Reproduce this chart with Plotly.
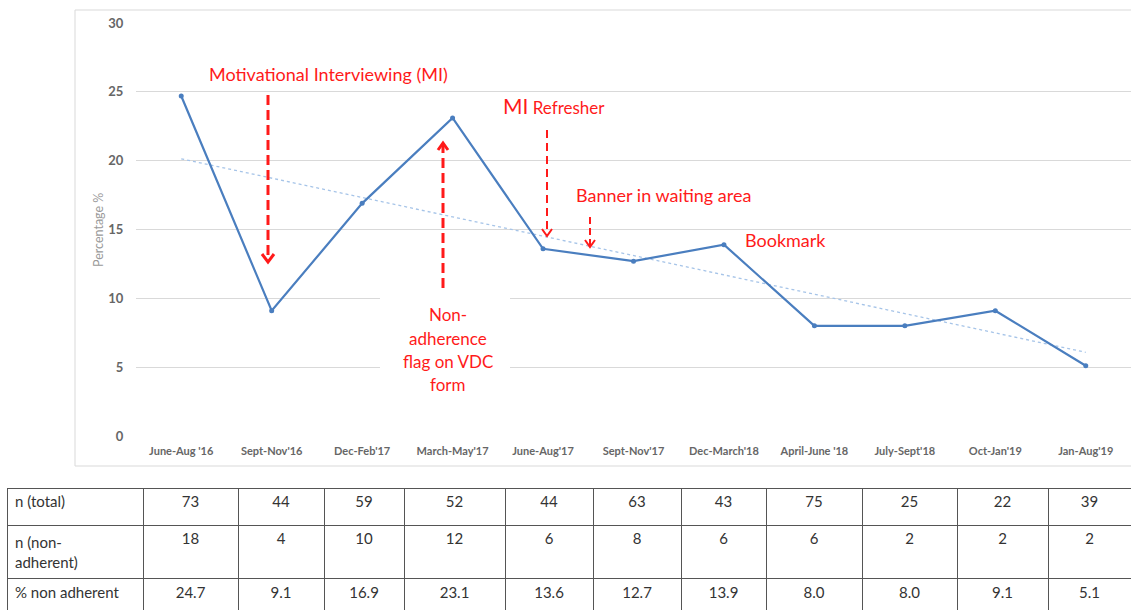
import numpy as np
import plotly.graph_objects as go

categories = ["June-Aug '16", "Sept-Nov'16", "Dec-Feb'17", "March-May'17", "June-Aug'17",
              "Sept-Nov'17", "Dec-March'18", "April-June '18", "July-Sept'18", "Oct-Jan'19", "Jan-Aug'19"]
pct_non_adherent = [24.7, 9.1, 16.9, 23.1, 13.6, 12.7, 13.9, 8.0, 8.0, 9.1, 5.1]
n_total = [73, 44, 59, 52, 44, 63, 43, 75, 25, 22, 39]
n_non_adherent = [18, 4, 10, 12, 6, 8, 6, 6, 2, 2, 2]
row_labels = ["n (total)", "n (non-<br>adherent)", "% non adherent"]
y_ticks = [0, 5, 10, 15, 20, 25, 30]

W, H = 1131, 611
FONT = "Lato"
RED = "#ff1a1a"

# linear trendline from the data
xi = np.arange(len(pct_non_adherent))
slope, intercept = np.polyfit(xi, pct_non_adherent, 1)
trend = intercept + slope * xi

fig = go.Figure()

fig.add_trace(go.Scatter(
    x=categories, y=trend, mode="lines",
    line=dict(color="#a6c4e8", width=1.3, dash="dot"),
    hoverinfo="skip", showlegend=False))

fig.add_trace(go.Scatter(
    x=categories, y=pct_non_adherent, mode="lines+markers",
    line=dict(color="#4a7ebf", width=2.2),
    marker=dict(size=5, color="#4a7ebf"),
    showlegend=False))

# Table (first row used as header so that all three rows look alike)
col_widths = [136, 95, 86, 80, 101, 88, 88, 85, 96, 95, 91, 83]
header_vals = [row_labels[0]] + [str(v) for v in n_total]
cell_vals = [[row_labels[1], row_labels[2]]] + [
    [str(a), f"{b:.1f}"] for a, b in zip(n_non_adherent, pct_non_adherent)]
aligns = ["left"] + ["center"] * len(categories)
fig.add_trace(go.Table(
    domain=dict(x=[7 / W, 1.0], y=[0, 1 - 488 / H]),
    columnwidth=col_widths,
    header=dict(values=header_vals, align=aligns, height=37,
                fill=dict(color="white"), line=dict(color="#555555", width=1),
                font=dict(family=FONT, size=15, color="#333333")),
    cells=dict(values=cell_vals, align=aligns, height=35,
               fill=dict(color="white"), line=dict(color="#555555", width=1),
               font=dict(family=FONT, size=15, color="#333333")),
))

# helper: px -> data
def dx(px):
    return (px - 136) / ((W - 136) / 11) - 0.5

def dy(py):
    return (436 - py) / ((436 - 23) / 30)

shapes = []
# chart frame
shapes.append(dict(type="rect", xref="paper", yref="paper",
                   x0=75 / W, x1=1.003, y0=1 - 466 / H, y1=1 - 10 / H,
                   line=dict(color="#d9d9d9", width=1), fillcolor="rgba(0,0,0,0)", layer="below"))
# white box behind the "Non-adherence" text
shapes.append(dict(type="rect", xref="x", yref="y",
                   x0=dx(380), x1=dx(510), y0=dy(398), y1=dy(296),
                   line=dict(width=0), fillcolor="white", layer="between"))

def dashed_arrow(xp, y_from, y_to, width, dash, head_w=6, head_h=8):
    x = dx(xp)
    shapes.append(dict(type="line", xref="x", yref="y",
                       x0=x, x1=x, y0=dy(y_from), y1=dy(y_to),
                       line=dict(color=RED, width=width, dash=dash)))
    base = y_to - head_h if y_to > y_from else y_to + head_h
    path = f"M {dx(xp - head_w)},{dy(base)} L {x},{dy(y_to)} L {dx(xp + head_w)},{dy(base)}"
    shapes.append(dict(type="path", xref="x", yref="y", path=path,
                       line=dict(color=RED, width=width)))

dashed_arrow(268, 95, 262, 3, "10px,5px", head_w=6, head_h=8)
dashed_arrow(443, 288, 143, 3, "10px,5px", head_w=5, head_h=7)
dashed_arrow(547, 130, 236, 2, "8px,5px", head_w=5, head_h=7)
dashed_arrow(590, 217, 247, 2, "7px,4px", head_w=5, head_h=7)

annotations = []
def txt(text, xp, yp, size=15):
    annotations.append(dict(text=text, x=dx(xp), y=dy(yp), xref="x", yref="y",
                            showarrow=False, font=dict(family=FONT, size=size, color=RED),
                            xanchor="center", yanchor="middle"))

txt("Motivational Interviewing (MI)", 328, 74, 18)
txt("<span style='font-size:21px'>MI</span> Refresher", 554, 105, 17)
txt("Banner in waiting area", 663, 195, 18)
txt("Bookmark", 785, 240, 18)
for line, yp in zip(["Non-", "adherence", "flag on VDC", "form"], [314, 338, 361, 384]):
    txt(line, 448, yp, 17)

annotations.append(dict(text="Percentage %", x=98 / W, y=1 - 230 / H, xref="paper", yref="paper",
                        xanchor="center", yanchor="middle",
                        showarrow=False, textangle=-90,
                        font=dict(family=FONT, size=12.5, color="#9a9a9a")))

fig.update_layout(
    width=W, height=H,
    margin=dict(l=0, r=0, t=0, b=0),
    paper_bgcolor="white", plot_bgcolor="white",
    shapes=shapes, annotations=annotations,
    xaxis=dict(domain=[136 / W, 1.0], range=[-0.5, 10.5], type="category",
               showgrid=False, zeroline=False, showline=False,
               ticks="outside", ticklen=5, tickcolor="rgba(0,0,0,0)",
               tickfont=dict(family=FONT, size=11, color="#666666", weight="bold"), automargin=False),
    yaxis=dict(domain=[1 - 436 / H, 1 - 23 / H], range=[0, 30], tickvals=y_ticks,
               showgrid=True, gridcolor="#d9d9d9", gridwidth=1, zeroline=False, showline=False,
               ticks="outside", ticklen=9, tickcolor="rgba(0,0,0,0)",
               tickfont=dict(family=FONT, size=13, color="#666666", weight="bold"), automargin=False),
    hovermode=False,
)

fig.write_html("out.html", config={"displayModeBar": False},
               post_script="document.body.style.margin='0';document.body.style.overflow='hidden';")
